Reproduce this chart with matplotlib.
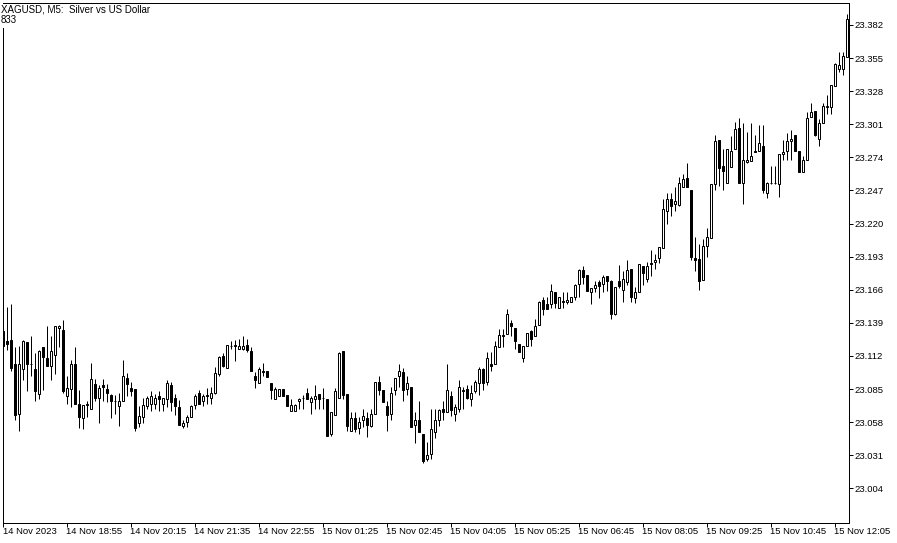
import matplotlib
matplotlib.use("Agg")
import matplotlib.pyplot as plt
import numpy as np
from matplotlib.patches import Rectangle

# ==============================================
# XAGUSD M5 bars (bar index 0 = 14 Nov 2023 17:35)
opens = [
    23.132, 23.124, 23.125, 23.105, 23.065, 23.101, 23.123, 23.105, 23.101, 23.081,
    23.119, 23.110, 23.104, 23.113, 23.135, 23.133, 23.079, 23.085, 23.105, 23.073,
    23.061, 23.072, 23.069, 23.089, 23.078, 23.088, 23.085, 23.080, 23.075, 23.071,
    23.075, 23.094, 23.086, 23.085, 23.057, 23.062, 23.071, 23.073, 23.073, 23.079,
    23.073, 23.077, 23.088, 23.078, 23.070, 23.055, 23.058, 23.062, 23.072, 23.082,
    23.075, 23.080, 23.078, 23.082, 23.097, 23.112, 23.102, 23.120, 23.121, 23.118,
    23.118, 23.121, 23.116, 23.096, 23.090, 23.100, 23.100, 23.090, 23.077, 23.079,
    23.085, 23.080, 23.067, 23.067, 23.075, 23.078, 23.082, 23.074, 23.077, 23.081,
    23.078, 23.077, 23.048, 23.064, 23.078, 23.116, 23.081, 23.051, 23.061, 23.053,
    23.060, 23.061, 23.055, 23.065, 23.091, 23.084, 23.071, 23.065, 23.084, 23.096,
    23.099, 23.085, 23.087, 23.056, 23.060, 23.048, 23.028, 23.032, 23.050, 23.060,
    23.069, 23.066, 23.079, 23.065, 23.069, 23.084, 23.085, 23.077, 23.083, 23.090,
    23.101, 23.091, 23.105, 23.105, 23.119, 23.129, 23.130, 23.139, 23.135, 23.122,
    23.110, 23.120, 23.132, 23.128, 23.137, 23.158, 23.154, 23.154, 23.164, 23.151,
    23.157, 23.156, 23.156, 23.160, 23.171, 23.182, 23.178, 23.164, 23.167, 23.172,
    23.171, 23.177, 23.173, 23.146, 23.173, 23.166, 23.172, 23.183, 23.159, 23.164,
    23.185, 23.175, 23.188, 23.189, 23.192, 23.200, 23.230, 23.240, 23.236, 23.235,
    23.250, 23.257, 23.247, 23.192, 23.191, 23.174, 23.202, 23.208, 23.252, 23.288,
    23.267, 23.253, 23.266, 23.281, 23.298, 23.253, 23.270, 23.271, 23.279, 23.279,
    23.283, 23.245, 23.253, 23.253, 23.252, 23.277, 23.279, 23.287, 23.292, 23.279,
    23.262, 23.272, 23.307, 23.312, 23.289, 23.302, 23.315, 23.315, 23.332, 23.346,
    23.346, 23.356,
]
highs = [
    23.155, 23.152, 23.154, 23.119, 23.120, 23.125, 23.123, 23.128, 23.114, 23.117,
    23.119, 23.136, 23.128, 23.136, 23.137, 23.141, 23.096, 23.109, 23.119, 23.084,
    23.072, 23.075, 23.106, 23.093, 23.088, 23.093, 23.089, 23.081, 23.080, 23.082,
    23.109, 23.098, 23.091, 23.085, 23.071, 23.078, 23.079, 23.083, 23.081, 23.083,
    23.078, 23.092, 23.091, 23.081, 23.076, 23.060, 23.064, 23.072, 23.081, 23.084,
    23.081, 23.086, 23.087, 23.103, 23.112, 23.114, 23.121, 23.124, 23.125, 23.126,
    23.128, 23.126, 23.119, 23.099, 23.103, 23.106, 23.100, 23.090, 23.087, 23.085,
    23.085, 23.080, 23.077, 23.073, 23.078, 23.080, 23.086, 23.079, 23.088, 23.081,
    23.086, 23.077, 23.066, 23.086, 23.115, 23.116, 23.081, 23.066, 23.066, 23.062,
    23.069, 23.066, 23.069, 23.091, 23.096, 23.084, 23.075, 23.087, 23.094, 23.105,
    23.102, 23.096, 23.087, 23.066, 23.075, 23.048, 23.042, 23.069, 23.069, 23.069,
    23.075, 23.105, 23.083, 23.073, 23.092, 23.087, 23.088, 23.088, 23.092, 23.103,
    23.102, 23.115, 23.115, 23.124, 23.134, 23.134, 23.150, 23.141, 23.135, 23.122,
    23.120, 23.131, 23.133, 23.142, 23.157, 23.160, 23.160, 23.171, 23.164, 23.160,
    23.164, 23.164, 23.160, 23.171, 23.183, 23.185, 23.178, 23.167, 23.173, 23.174,
    23.178, 23.177, 23.174, 23.168, 23.186, 23.181, 23.190, 23.183, 23.168, 23.187,
    23.185, 23.189, 23.198, 23.195, 23.201, 23.240, 23.245, 23.245, 23.250, 23.258,
    23.260, 23.269, 23.247, 23.209, 23.203, 23.207, 23.216, 23.252, 23.292, 23.288,
    23.281, 23.281, 23.291, 23.303, 23.306, 23.302, 23.295, 23.302, 23.292, 23.300,
    23.300, 23.254, 23.267, 23.267, 23.277, 23.288, 23.294, 23.296, 23.292, 23.279,
    23.275, 23.311, 23.318, 23.312, 23.305, 23.318, 23.325, 23.333, 23.351, 23.360,
    23.360, 23.391,
]
lows = [
    23.115, 23.117, 23.100, 23.060, 23.051, 23.092, 23.083, 23.096, 23.075, 23.077,
    23.084, 23.104, 23.092, 23.097, 23.119, 23.082, 23.073, 23.070, 23.073, 23.053,
    23.052, 23.062, 23.069, 23.075, 23.057, 23.075, 23.074, 23.061, 23.065, 23.055,
    23.075, 23.079, 23.079, 23.051, 23.054, 23.057, 23.069, 23.067, 23.069, 23.067,
    23.067, 23.070, 23.067, 23.064, 23.056, 23.053, 23.054, 23.062, 23.069, 23.073,
    23.071, 23.073, 23.073, 23.081, 23.096, 23.103, 23.102, 23.118, 23.108, 23.118,
    23.117, 23.115, 23.100, 23.086, 23.090, 23.096, 23.095, 23.077, 23.077, 23.079,
    23.079, 23.071, 23.067, 23.067, 23.069, 23.069, 23.077, 23.065, 23.069, 23.069,
    23.069, 23.047, 23.047, 23.064, 23.078, 23.077, 23.051, 23.051, 23.050, 23.048,
    23.054, 23.046, 23.054, 23.065, 23.080, 23.074, 23.051, 23.060, 23.080, 23.087,
    23.075, 23.080, 23.054, 23.041, 23.050, 23.025, 23.026, 23.028, 23.045, 23.055,
    23.060, 23.066, 23.063, 23.059, 23.066, 23.069, 23.077, 23.071, 23.082, 23.080,
    23.084, 23.088, 23.100, 23.105, 23.119, 23.119, 23.130, 23.128, 23.118, 23.115,
    23.107, 23.120, 23.120, 23.128, 23.137, 23.145, 23.150, 23.151, 23.151, 23.151,
    23.151, 23.154, 23.156, 23.158, 23.160, 23.171, 23.165, 23.154, 23.164, 23.159,
    23.164, 23.165, 23.142, 23.145, 23.167, 23.156, 23.170, 23.156, 23.155, 23.164,
    23.170, 23.172, 23.177, 23.183, 23.188, 23.200, 23.220, 23.226, 23.230, 23.234,
    23.250, 23.250, 23.190, 23.181, 23.166, 23.174, 23.193, 23.208, 23.247, 23.251,
    23.247, 23.253, 23.266, 23.281, 23.253, 23.236, 23.269, 23.271, 23.278, 23.279,
    23.245, 23.241, 23.252, 23.252, 23.242, 23.272, 23.272, 23.272, 23.279, 23.262,
    23.262, 23.272, 23.307, 23.291, 23.283, 23.302, 23.309, 23.309, 23.332, 23.344,
    23.341, 23.356,
]
closes = [
    23.120, 23.122, 23.102, 23.064, 23.105, 23.124, 23.105, 23.105, 23.083, 23.116,
    23.111, 23.104, 23.116, 23.136, 23.136, 23.083, 23.086, 23.105, 23.073, 23.062,
    23.072, 23.073, 23.093, 23.078, 23.086, 23.087, 23.082, 23.075, 23.075, 23.075,
    23.096, 23.089, 23.083, 23.053, 23.063, 23.072, 23.078, 23.079, 23.078, 23.077,
    23.078, 23.090, 23.074, 23.071, 23.056, 23.057, 23.062, 23.071, 23.079, 23.073,
    23.079, 23.079, 23.082, 23.098, 23.111, 23.104, 23.121, 23.120, 23.120, 23.120,
    23.120, 23.117, 23.100, 23.092, 23.101, 23.099, 23.095, 23.084, 23.085, 23.085,
    23.079, 23.071, 23.072, 23.072, 23.077, 23.078, 23.077, 23.078, 23.079, 23.077,
    23.078, 23.047, 23.066, 23.083, 23.114, 23.080, 23.055, 23.061, 23.052, 23.058,
    23.063, 23.056, 23.065, 23.091, 23.084, 23.074, 23.064, 23.082, 23.094, 23.100,
    23.084, 23.090, 23.054, 23.060, 23.050, 23.026, 23.031, 23.052, 23.060, 23.068,
    23.066, 23.084, 23.068, 23.070, 23.087, 23.083, 23.078, 23.082, 23.091, 23.101,
    23.090, 23.110, 23.104, 23.120, 23.129, 23.128, 23.146, 23.136, 23.124, 23.115,
    23.120, 23.131, 23.126, 23.136, 23.156, 23.150, 23.150, 23.165, 23.155, 23.160,
    23.156, 23.158, 23.160, 23.170, 23.182, 23.176, 23.165, 23.167, 23.170, 23.169,
    23.176, 23.173, 23.146, 23.168, 23.169, 23.175, 23.182, 23.160, 23.164, 23.187,
    23.180, 23.185, 23.187, 23.190, 23.201, 23.232, 23.240, 23.234, 23.238, 23.253,
    23.256, 23.250, 23.193, 23.190, 23.173, 23.202, 23.209, 23.252, 23.287, 23.265,
    23.263, 23.281, 23.279, 23.297, 23.253, 23.272, 23.272, 23.275, 23.278, 23.286,
    23.247, 23.253, 23.253, 23.253, 23.277, 23.278, 23.287, 23.289, 23.279, 23.262,
    23.272, 23.306, 23.311, 23.292, 23.302, 23.316, 23.316, 23.333, 23.350, 23.349,
    23.357, 23.387,
]

price_ticks = [23.004, 23.031, 23.058, 23.085, 23.112, 23.139, 23.166, 23.193,
               23.220, 23.247, 23.274, 23.301, 23.328, 23.355, 23.382]
time_tick_bars = [0, 16, 32, 48, 64, 80, 96, 112, 128, 144, 160, 176, 192, 208]
time_tick_labels = ["14 Nov 2023", "14 Nov 18:55", "14 Nov 20:15", "14 Nov 21:35",
                    "14 Nov 22:55", "15 Nov 01:25", "15 Nov 02:45", "15 Nov 04:05",
                    "15 Nov 05:25", "15 Nov 06:45", "15 Nov 08:05", "15 Nov 09:25",
                    "15 Nov 10:45", "15 Nov 12:05"]

title_text = "XAGUSD, M5:  Silver vs US Dollar"
sub_text = "833"

# ==============================================
W, H = 897, 543
px = 0.72  # one pixel in points at dpi 100

fig = plt.figure(figsize=(W / 100, H / 100), dpi=100, facecolor="white")
ax = fig.add_axes([2.5 / W, 20.5 / H, 846 / W, 519.5 / H])
ax.set_facecolor("white")

o = np.array(opens)
h = np.array(highs)
l = np.array(lows)
c = np.array(closes)
x = np.arange(len(o))
up = c >= o

# wicks first, bodies on top (white bodies hide the wick)
ax.vlines(x, l, h, color="black", linewidth=px, zorder=2)
ax.bar(x, np.abs(c - o), bottom=np.minimum(o, c), width=0.5,
       color=np.where(up, "white", "black"), edgecolor="black",
       linewidth=px, zorder=3)

ax.set_xlim(0, 211.5)
ax.set_ylim(22.9761, 23.3999)

for side in ["left", "right", "top", "bottom"]:
    ax.spines[side].set_linewidth(px)
    ax.spines[side].set_color("black")

ax.yaxis.tick_right()
ax.set_yticks(price_ticks, labels=[f"{v:.3f}" for v in price_ticks])
ax.set_xticks(time_tick_bars, labels=time_tick_labels)
ax.tick_params(axis="both", direction="out", length=4 * px, width=px,
               colors="black", labelsize=6.8)
ax.tick_params(axis="x", pad=0.3)
ax.tick_params(axis="y", pad=1.2)
for lbl in ax.get_xticklabels():
    lbl.set_horizontalalignment("left")
    lbl.set_fontfamily("Liberation Sans")
for lbl in ax.get_yticklabels():
    lbl.set_fontfamily("Liberation Sans")

# the label block hides the top of the left frame line
fig.patches.append(Rectangle((0, 1 - 28 / H), 6 / W, 24 / H, transform=fig.transFigure,
                             facecolor="white", edgecolor="none", zorder=2))
fig.text(1 / W, 1 - 12 / H, title_text, fontsize=7, family="Liberation Sans",
         ha="left", va="baseline")
fig.text(1 / W, 1 - 23 / H, sub_text, fontsize=7, family="Liberation Sans",
         ha="left", va="baseline")

plt.savefig("out.png", dpi=100, facecolor="white")
